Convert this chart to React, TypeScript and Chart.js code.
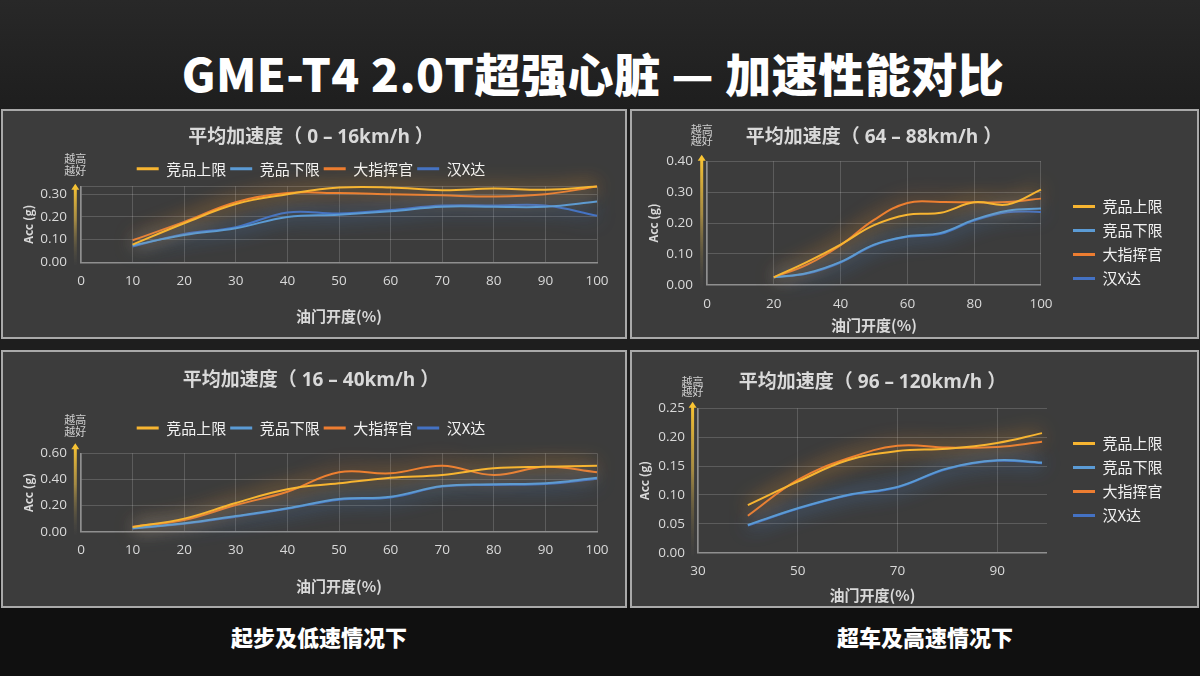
import React, { useEffect, useRef } from 'react';
import { Chart, registerables } from 'chart.js';

Chart.register(...registerables);

// ---------- data ----------
const SERIES_NAMES = ['竞品上限', '竞品下限', '大指挥官', '汉X达'];
const SERIES_COLORS = ['#F7B531', '#5B9BD5', '#ED7D31', '#4472C4'];

// Chart 1: 0–16 km/h
const c1Throttle = [10, 20, 30, 40, 50, 60, 70, 80, 90, 100];
const c1Upper = [0.078, 0.172, 0.257, 0.3, 0.33, 0.33, 0.318, 0.325, 0.32, 0.334];
const c1Lower = [0.075, 0.12, 0.15, 0.2, 0.21, 0.225, 0.245, 0.245, 0.245, 0.268];
const c1Commander = [0.097, 0.178, 0.265, 0.305, 0.305, 0.3, 0.295, 0.29, 0.3, 0.334];
const c1Hanxda = [0.07, 0.125, 0.155, 0.22, 0.215, 0.23, 0.25, 0.25, 0.25, 0.205];
const c1XTicks = [0, 10, 20, 30, 40, 50, 60, 70, 80, 90, 100];
const c1YTicks = [0, 0.1, 0.2, 0.3];
const c1YMax = 0.335;

// Chart 2: 64–88 km/h
const c2Throttle = [20, 30, 40, 50, 60, 70, 80, 90, 100];
const c2Upper = [0.024, 0.074, 0.13, 0.193, 0.227, 0.233, 0.267, 0.26, 0.308];
const c2Lower = [0.024, 0.038, 0.074, 0.13, 0.157, 0.168, 0.211, 0.24, 0.247];
const c2Commander = [0.024, 0.065, 0.128, 0.21, 0.265, 0.268, 0.267, 0.268, 0.279];
const c2Hanxda = [0.024, 0.036, 0.072, 0.128, 0.155, 0.165, 0.208, 0.235, 0.236];
const c2XTicks = [0, 20, 40, 60, 80, 100];
const c2YTicks = [0, 0.1, 0.2, 0.3, 0.4];

// Chart 3: 16–40 km/h
const c3Throttle = [10, 20, 30, 40, 50, 60, 70, 80, 90, 100];
const c3Upper = [0.035, 0.1, 0.22, 0.325, 0.37, 0.413, 0.434, 0.485, 0.497, 0.505];
const c3Lower = [0.026, 0.064, 0.12, 0.18, 0.25, 0.268, 0.35, 0.363, 0.37, 0.413];
const c3Commander = [0.038, 0.09, 0.204, 0.306, 0.455, 0.447, 0.505, 0.434, 0.497, 0.455];
const c3Hanxda = [0.024, 0.06, 0.115, 0.175, 0.245, 0.262, 0.345, 0.358, 0.365, 0.405];
const c3XTicks = [0, 10, 20, 30, 40, 50, 60, 70, 80, 90, 100];
const c3YTicks = [0, 0.2, 0.4, 0.6];

// Chart 4: 96–120 km/h
const c4Throttle = [40, 50, 60, 70, 80, 90, 99];
const c4Upper = [0.0825, 0.123, 0.16, 0.176, 0.18, 0.19, 0.207];
const c4Lower = [0.048, 0.077, 0.1, 0.114, 0.146, 0.16, 0.156];
const c4Commander = [0.064, 0.126, 0.163, 0.185, 0.182, 0.183, 0.192];
const c4Hanxda = [0.047, 0.076, 0.099, 0.113, 0.145, 0.159, 0.155];
const c4XTicks = [30, 50, 70, 90];
const c4YTicks = [0, 0.05, 0.1, 0.15, 0.2, 0.25];

// ---------- styling ----------
const NUM_FONT = "'Open Sans', 'Noto Sans CJK SC', sans-serif";
const CJK_FONT = "'Noto Sans CJK SC', 'Open Sans', sans-serif";
const TEXT = '#d9d9d9';
const GRID = 'rgba(255,255,255,0.17)';
const AXIS = '#8f8f8f';

const glowPlugin = {
  id: 'glow',
  beforeDatasetDraw(chart: any, args: any) {
    const ctx = chart.ctx;
    const ds = chart.data.datasets[args.index];
    ctx.save();
    ctx.shadowColor = ds.borderColor;
    ctx.shadowBlur = 20;
  },
  afterDatasetDraw(chart: any) {
    chart.ctx.restore();
  },
};

const arrowPlugin = {
  id: 'arrowNote',
  afterDraw(chart: any, _a: any, o: any) {
    const { ctx, chartArea } = chart;
    const x = chartArea.left - o.dx;
    const tip = chartArea.top - o.tip;
    const bottom = chartArea.bottom + 3;
    const g = ctx.createLinearGradient(0, tip, 0, bottom);
    g.addColorStop(0, 'rgba(255,200,50,1)');
    g.addColorStop(0.45, 'rgba(200,165,70,0.75)');
    g.addColorStop(1, 'rgba(70,70,70,0.2)');
    ctx.save();
    ctx.fillStyle = g;
    ctx.fillRect(x - 1.5, tip + 5, 3, bottom - tip - 5);
    ctx.beginPath();
    ctx.moveTo(x, tip);
    ctx.lineTo(x - 4, tip + 6);
    ctx.lineTo(x + 4, tip + 6);
    ctx.closePath();
    ctx.fill();
    ctx.font = `11px ${CJK_FONT}`;
    ctx.fillStyle = '#cfcfcf';
    ctx.textAlign = 'center';
    ctx.textBaseline = 'middle';
    ctx.fillText('越高', x, chartArea.top - o.t1);
    ctx.fillText('越好', x, chartArea.top - o.t2);
    ctx.restore();
  },
};

function swatch(color: string, offset: number) {
  const c = document.createElement('canvas');
  c.width = Math.round(offset) + 22;
  c.height = 3;
  const g = c.getContext('2d') as CanvasRenderingContext2D;
  g.fillStyle = color;
  g.fillRect(Math.round(offset), 0, 22, 3);
  return c;
}

function makeDatasets(x: number[], series: number[][]) {
  return series.map((vals, i) => ({
    label: SERIES_NAMES[i],
    data: vals.map((v, j) => ({ x: x[j], y: v })),
    borderColor: SERIES_COLORS[i],
    backgroundColor: SERIES_COLORS[i],
    borderWidth: 2,
    pointRadius: 0,
    pointHoverRadius: 0,
    tension: 0.4,
    fill: false,
    clip: false,
    xAxisID: 'x',
    yAxisID: 'y',
  }));
}

const legendLabels = (padding: number, swatchOffset: number) => {
  const base: any = {
    boxWidth: 22,
    boxHeight: 3,
    padding,
    color: '#f2f2f2',
    font: { size: 15, family: CJK_FONT },
  };
  if (swatchOffset > 0) {
    base.usePointStyle = true;
    base.pointStyleWidth = Math.round(swatchOffset) + 22;
    base.generateLabels = (chart: any) =>
      Chart.defaults.plugins.legend.labels.generateLabels(chart).map((l: any) => ({
        ...l,
        lineWidth: 0,
        pointStyle: swatch(SERIES_COLORS[l.datasetIndex], swatchOffset),
      }));
  } else {
    base.generateLabels = (chart: any) =>
      Chart.defaults.plugins.legend.labels.generateLabels(chart).map((l: any) => ({ ...l, lineWidth: 0 }));
  }
  return base;
};

type Spec = {
  title: string;
  x: number[];
  series: number[][];
  xMin: number;
  xMax: number;
  xTicks: number[];
  yMax: number;
  yTicks: number[];
  yWidth: number;
  yTitlePad: number;
  yTickPad: number;
  xHeight: number;
  xTickPad: number;
  xTitlePad: number;
  titlePad: { top: number; bottom: number };
  titleFull: boolean;
  legendPos: 'top' | 'right';
  legendPad: number;
  legendTitleH: number;
  swatchOffset: number;
  padLeft: number;
  padRight: number;
  gapTop: number;
  arrow: { dx: number; tip: number; t1: number; t2: number };
};

function buildConfig(s: Spec): any {
  const scales: any = {
    x: {
      type: 'linear',
      position: 'bottom',
      min: s.xMin,
      max: s.xMax,
      afterBuildTicks: (sc: any) => {
        sc.ticks = s.xTicks.map((v) => ({ value: v }));
      },
      afterFit: (sc: any) => {
        sc.height = s.xHeight;
      },
      grid: { color: GRID, lineWidth: 1, drawTicks: false },
      border: { color: AXIS, width: 1.5 },
      ticks: { color: TEXT, padding: s.xTickPad, autoSkip: false, maxRotation: 0, font: { size: 13.5, family: NUM_FONT } },
      title: {
        display: true,
        text: '油门开度(%)',
        color: TEXT,
        font: { size: 15, weight: 'bold', family: CJK_FONT },
        padding: { top: 0, bottom: s.xTitlePad },
      },
    },
    y: {
      type: 'linear',
      position: 'left',
      min: 0,
      max: s.yMax,
      afterBuildTicks: (sc: any) => {
        const vals = s.yTicks.includes(s.yMax) ? s.yTicks : [...s.yTicks, s.yMax];
        sc.ticks = vals.map((v) => ({ value: v }));
      },
      afterFit: (sc: any) => {
        sc.width = s.yWidth;
      },
      grid: { color: GRID, lineWidth: 1, drawTicks: false },
      border: { color: AXIS, width: 1.5 },
      ticks: {
        color: TEXT,
        padding: s.yTickPad,
        autoSkip: false,
        font: { size: 13.5, family: NUM_FONT },
        callback: (v: number) => (s.yTicks.includes(v) ? v.toFixed(2) : ''),
      },
      title: {
        display: true,
        text: 'Acc (g)',
        color: TEXT,
        font: { size: 12, weight: 'bold', family: CJK_FONT },
        padding: { top: s.yTitlePad, bottom: 0 },
      },
    },
  };
  if (s.gapTop > 0) {
    scales.gapTop = {
      type: 'linear',
      position: 'top',
      display: true,
      grid: { display: false },
      border: { display: false },
      ticks: { display: false },
      afterFit: (sc: any) => {
        sc.height = s.gapTop;
      },
    };
  }
  return {
    type: 'line',
    data: { datasets: makeDatasets(s.x, s.series) },
    plugins: [glowPlugin, arrowPlugin],
    options: {
      responsive: false,
      animation: false,
      events: [],
      layout: { padding: { left: s.padLeft, right: s.padRight, top: 0, bottom: 0 } },
      scales,
      plugins: {
        tooltip: { enabled: false },
        title: {
          display: true,
          text: s.title,
          color: TEXT,
          fullSize: s.titleFull,
          font: { size: 19, weight: 'bold', family: NUM_FONT, lineHeight: 1.2 },
          padding: s.titlePad,
        },
        legend: {
          display: true,
          position: s.legendPos,
          labels: legendLabels(s.legendPad, s.swatchOffset),
          title:
            s.legendTitleH > 0
              ? {
                  display: true,
                  text: '',
                  font: { size: 10 },
                  padding: { top: (s.legendTitleH - 12) / 2, bottom: (s.legendTitleH - 12) / 2 },
                }
              : { display: false },
        },
        arrowNote: s.arrow,
      },
    },
  };
}

// title font 19 → line box 22.8 (half 11.4)
const spec1: Spec = {
  title: '平均加速度（ 0 – 16km/h ）',
  x: c1Throttle,
  series: [c1Upper, c1Lower, c1Commander, c1Hanxda],
  xMin: 0, xMax: 100, xTicks: c1XTicks,
  yMax: c1YMax, yTicks: c1YTicks,
  yWidth: 56, yTitlePad: -4.2, yTickPad: 14,
  xHeight: 74.7, xTickPad: 10.6, xTitlePad: 12,
  titlePad: { top: 15.6, bottom: 7.9 }, titleFull: true,
  legendPos: 'top', legendPad: 4, legendTitleH: 0, swatchOffset: 0,
  padLeft: 22, padRight: 28, gapTop: 0,
  arrow: { dx: 5.7, tip: 2.6, t1: 27.6, t2: 15.3 },
};

const spec2: Spec = {
  title: '平均加速度（ 64 – 88km/h ）',
  x: c2Throttle,
  series: [c2Upper, c2Lower, c2Commander, c2Hanxda],
  xMin: 0, xMax: 100, xTicks: c2XTicks,
  yMax: 0.4, yTicks: c2YTicks,
  yWidth: 75, yTitlePad: 13.8, yTickPad: 14,
  xHeight: 52.3, xTickPad: 11.6, xTitlePad: 3,
  titlePad: { top: 15.6, bottom: 11.9 }, titleFull: false,
  legendPos: 'right', legendPad: 9, legendTitleH: 36, swatchOffset: 23,
  padLeft: 0, padRight: 24.5, gapTop: 0,
  arrow: { dx: 5.3, tip: 6.6, t1: 31.6, t2: 20.3 },
};

const spec3: Spec = {
  title: '平均加速度（ 16 – 40km/h ）',
  x: c3Throttle,
  series: [c3Upper, c3Lower, c3Commander, c3Hanxda],
  xMin: 0, xMax: 100, xTicks: c3XTicks,
  yMax: 0.6, yTicks: c3YTicks,
  yWidth: 56, yTitlePad: -4.2, yTickPad: 14,
  xHeight: 74.3, xTickPad: 9.9, xTitlePad: 10.3,
  titlePad: { top: 17.6, bottom: 24.1 }, titleFull: true,
  legendPos: 'top', legendPad: 4, legendTitleH: 0, swatchOffset: 0,
  padLeft: 22, padRight: 28, gapTop: 7.8,
  arrow: { dx: 5.7, tip: 10, t1: 33.3, t2: 21 },
};

const spec4: Spec = {
  title: '平均加速度（ 96 – 120km/h ）',
  x: c4Throttle,
  series: [c4Upper, c4Lower, c4Commander, c4Hanxda],
  xMin: 30, xMax: 100, xTicks: c4XTicks,
  yMax: 0.25, yTicks: c4YTicks,
  yWidth: 66, yTitlePad: 4.8, yTickPad: 13,
  xHeight: 53.3, xTickPad: 10.6, xTitlePad: 2,
  titlePad: { top: 19.6, bottom: 13.9 }, titleFull: false,
  legendPos: 'right', legendPad: 9, legendTitleH: 0, swatchOffset: 17,
  padLeft: 0, padRight: 24.5, gapTop: 0,
  arrow: { dx: 5.4, tip: 6.6, t1: 26.6, t2: 16.6 },
};

function ChartPanel({ left, top, width, height, spec }: { left: number; top: number; width: number; height: number; spec: Spec }) {
  const ref = useRef<HTMLCanvasElement>(null);
  const w = width - 4;
  const h = height - 4;
  useEffect(() => {
    const chart = new Chart(ref.current as HTMLCanvasElement, buildConfig(spec));
    return () => chart.destroy();
  }, []);
  return (
    <div
      style={{
        position: 'absolute',
        left,
        top,
        width,
        height,
        boxSizing: 'border-box',
        border: '2px solid #a9a9a9',
        background: '#3c3c3c',
      }}
    >
      <canvas ref={ref} width={w} height={h} style={{ display: 'block', width: w, height: h }} />
    </div>
  );
}

const bottomLabel: React.CSSProperties = {
  position: 'absolute',
  top: 621,
  width: 200,
  textAlign: 'center',
  color: '#ffffff',
  fontSize: 22,
  fontWeight: 900,
  lineHeight: '30px',
};

export default function App() {
  return (
    <div
      style={{
        position: 'fixed',
        left: 0,
        top: 0,
        width: 1200,
        height: 676,
        overflow: 'hidden',
        background: 'linear-gradient(180deg, #282828 0%, #1e1e1e 16%, #1e1e1e 60%, #141414 100%)',
        fontFamily: CJK_FONT,
      }}
    >
      <div
        style={{
          position: 'absolute',
          left: 0,
          top: 45,
          width: 1186,
          textAlign: 'center',
          color: '#ffffff',
          fontSize: 46,
          fontWeight: 900,
          letterSpacing: 0.5,
          lineHeight: '54px',
          whiteSpace: 'nowrap',
        }}
      >
        GME-T4 2.0T超强心脏 — 加速性能对比
      </div>
      <ChartPanel left={1} top={109} width={626} height={230} spec={spec1} />
      <ChartPanel left={630} top={109} width={569} height={230} spec={spec2} />
      <ChartPanel left={1} top={350} width={626} height={258} spec={spec3} />
      <ChartPanel left={630} top={350} width={569} height={258} spec={spec4} />
      <div style={{ position: 'absolute', left: 0, top: 608, width: 1200, height: 68, background: '#101010' }} />
      <div style={{ ...bottomLabel, left: 219 }}>起步及低速情况下</div>
      <div style={{ ...bottomLabel, left: 825 }}>超车及高速情况下</div>
    </div>
  );
}
